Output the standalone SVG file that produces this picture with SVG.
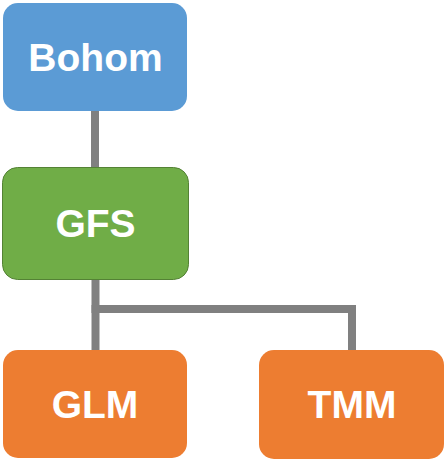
<svg xmlns="http://www.w3.org/2000/svg" width="447" height="462" viewBox="0 0 447 462">
<style>
.lbl{font-family:"Liberation Sans",Arial,sans-serif;font-weight:bold;font-size:39px;fill:#fff;text-anchor:middle}
.con{stroke:#808080;stroke-width:8;fill:none}
</style>
<rect width="447" height="462" fill="#fff"/>
<g id="connectors">
<line class="con" x1="95" y1="110" x2="95" y2="169"/>
<polyline class="con" points="95.5,279 95.5,309 352,309 352,350"/>
<line class="con" x1="95.5" y1="305" x2="95.5" y2="350"/>
</g>
<g id="bohom">
<rect x="3" y="3" width="184" height="108" rx="15" fill="#5B9BD5"/>
<text class="lbl" x="95.5" y="71">Bohom</text>
</g>
<g id="gfs">
<rect x="2.5" y="167.5" width="186" height="112" rx="15" fill="#70AD47" stroke="#548235" stroke-width="1"/>
<text class="lbl" x="95.5" y="237">GFS</text>
</g>
<g id="glm">
<rect x="3" y="350" width="184" height="108" rx="15" fill="#ED7D31"/>
<text class="lbl" x="95" y="418">GLM</text>
</g>
<g id="tmm">
<rect x="259" y="350" width="185" height="109" rx="15" fill="#ED7D31"/>
<text class="lbl" x="352" y="418">TMM</text>
</g>
</svg>
